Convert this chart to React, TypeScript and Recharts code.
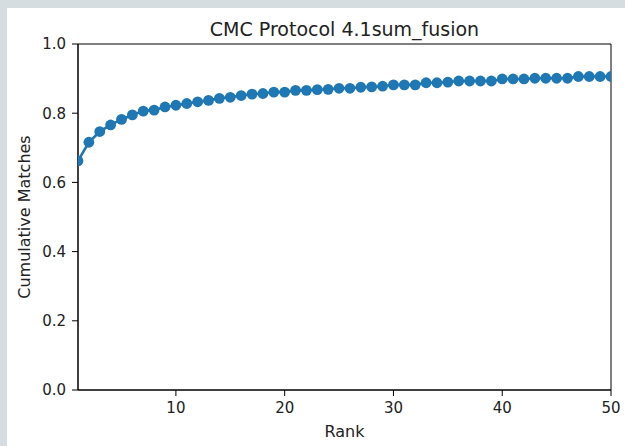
import { LineChart, Line, XAxis, YAxis, ReferenceArea } from 'recharts';

const ranks = [
  1, 2, 3, 4, 5, 6, 7, 8, 9, 10, 11, 12, 13, 14, 15, 16, 17, 18, 19, 20, 21, 22, 23, 24, 25,
  26, 27, 28, 29, 30, 31, 32, 33, 34, 35, 36, 37, 38, 39, 40, 41, 42, 43, 44, 45, 46, 47, 48, 49, 50,
];

const matches = [
  0.662, 0.716, 0.747, 0.766, 0.782, 0.795, 0.806, 0.809, 0.818, 0.823,
  0.828, 0.833, 0.837, 0.843, 0.846, 0.851, 0.855, 0.857, 0.861, 0.861,
  0.866, 0.866, 0.868, 0.869, 0.872, 0.872, 0.875, 0.876, 0.878, 0.882,
  0.882, 0.882, 0.888, 0.888, 0.89, 0.893, 0.893, 0.893, 0.893, 0.899,
  0.899, 0.899, 0.901, 0.901, 0.901, 0.901, 0.906, 0.906, 0.906, 0.906,
];

const xTicks = [10, 20, 30, 40, 50];
const yTicks = [0, 0.2, 0.4, 0.6, 0.8, 1.0];

const data = ranks.map((r, i) => ({ rank: r, value: matches[i] }));

const FONT = '"DejaVu Sans", sans-serif';
const BLUE = '#1f77b4';
const tickStyle = { fontSize: 15, fill: '#222', fontFamily: FONT };

export default function App() {
  return (
    <div style={{ position: 'absolute', left: 0, top: 0, width: 625, height: 446, background: '#d6dde0', overflow: 'hidden' }}>
      <div style={{ position: 'absolute', left: 7, top: 8, right: 0, bottom: 0, background: '#fff' }} />
      <div style={{ position: 'absolute', left: 0, top: 0 }}>
        <LineChart width={625} height={446} data={data} margin={{ top: 44, right: 14, bottom: 26, left: 18 }}>
          <ReferenceArea x1={1} x2={50} y1={0} y2={1} fill="none" stroke="#000" strokeWidth={1} />
          <XAxis
            dataKey="rank"
            type="number"
            domain={[1, 50]}
            ticks={xTicks}
            allowDataOverflow
            height={30}
            tick={tickStyle}
            tickSize={6}
            tickMargin={6}
            axisLine={{ stroke: '#000' }}
            tickLine={{ stroke: '#000' }}
          />
          <YAxis
            type="number"
            domain={[0, 1]}
            ticks={yTicks}
            allowDataOverflow
            width={60}
            tick={tickStyle}
            tickSize={6}
            tickMargin={6}
            tickFormatter={(v: number) => v.toFixed(1)}
            axisLine={{ stroke: '#000' }}
            tickLine={{ stroke: '#000' }}
          />
          <Line
            dataKey="value"
            stroke={BLUE}
            strokeWidth={2.6}
            dot={{ r: 5.4, fill: BLUE, stroke: 'none' }}
            activeDot={false}
            isAnimationActive={false}
          />
        </LineChart>
      </div>
      <div style={{ position: 'absolute', left: 344.5, top: 20, transform: 'translateX(-50%)', fontFamily: FONT, fontSize: 19, lineHeight: '19px', color: '#222', whiteSpace: 'nowrap' }}>
        CMC Protocol 4.1sum_fusion
      </div>
      <div style={{ position: 'absolute', left: 25, top: 217, transform: 'translate(-50%, -50%) rotate(-90deg)', fontFamily: FONT, fontSize: 16, lineHeight: '16px', color: '#222', whiteSpace: 'nowrap' }}>
        Cumulative Matches
      </div>
      <div style={{ position: 'absolute', left: 344.5, top: 432, transform: 'translate(-50%, -50%)', fontFamily: FONT, fontSize: 16, lineHeight: '16px', color: '#222', whiteSpace: 'nowrap' }}>
        Rank
      </div>
    </div>
  );
}
